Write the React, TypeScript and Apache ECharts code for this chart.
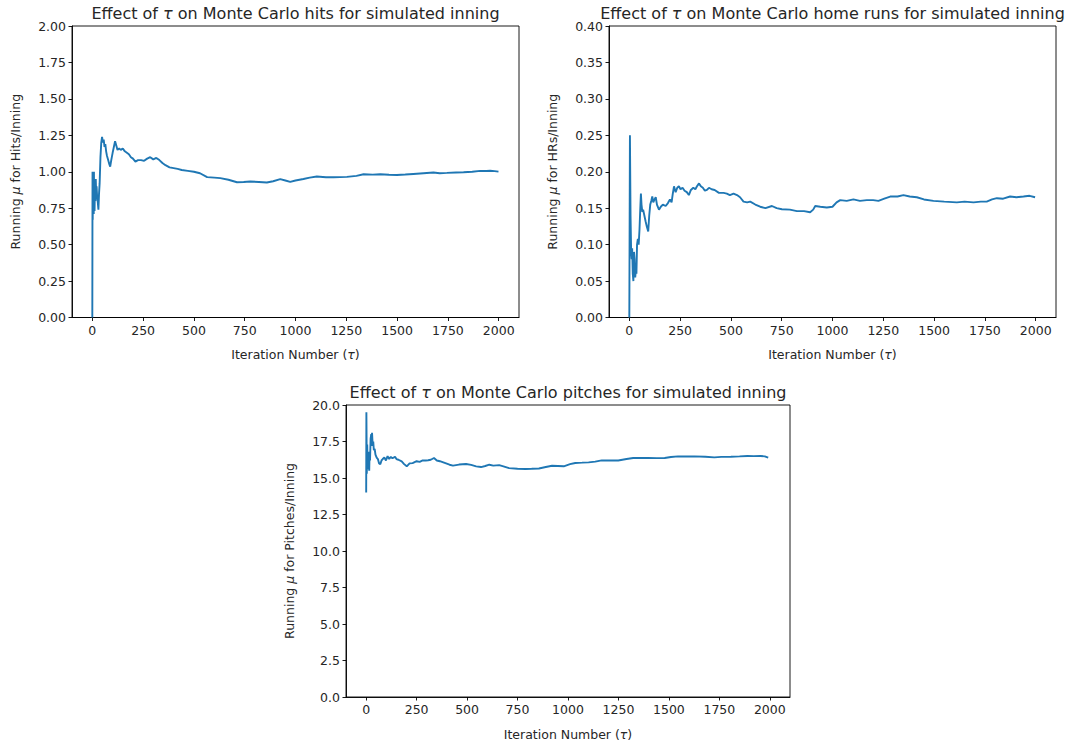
import React, { useEffect, useRef } from "react";
import * as echarts from "echarts";

// ---------- Data ----------
const xTicks = [0, 250, 500, 750, 1000, 1250, 1500, 1750, 2000];

const hitsIter = [0, 1, 2, 3, 4, 5, 6, 7, 8, 9, 10, 11, 13, 15, 17, 19, 21, 24, 27, 30, 33, 36, 40, 44, 48, 52, 56, 60, 64, 68, 72, 78, 84, 88, 92, 96, 100, 106, 112, 118, 124, 132, 140, 150, 160, 170, 180, 190, 200, 212, 225, 240, 255, 270, 285, 300, 315, 330, 345, 360, 380, 400, 420, 440, 470, 500, 530, 565, 600, 630, 670, 712, 745, 777, 820, 859, 890, 925, 950, 974, 1000, 1039, 1070, 1105, 1150, 1187, 1220, 1253, 1300, 1335, 1380, 1417, 1460, 1499, 1540, 1580, 1630, 1679, 1710, 1745, 1790, 1827, 1870, 1909, 1940, 1958, 1980, 1999];
const hitsMean = [0, 1.0, 0.67, 1.0, 0.75, 1.0, 0.86, 0.71, 1.0, 0.78, 0.9, 0.73, 0.92, 0.8, 0.95, 0.85, 0.9, 0.82, 0.79, 0.74, 0.85, 0.92, 1.1, 1.2, 1.24, 1.2, 1.22, 1.17, 1.19, 1.14, 1.11, 1.08, 1.05, 1.035, 1.07, 1.1, 1.13, 1.17, 1.21, 1.18, 1.15, 1.16, 1.15, 1.16, 1.14, 1.13, 1.12, 1.1, 1.09, 1.07, 1.08, 1.08, 1.075, 1.09, 1.1, 1.085, 1.095, 1.08, 1.06, 1.045, 1.03, 1.025, 1.02, 1.012, 1.006, 1.0, 0.99, 0.963, 0.96, 0.956, 0.945, 0.928, 0.93, 0.933, 0.93, 0.926, 0.935, 0.949, 0.94, 0.93, 0.94, 0.95, 0.96, 0.967, 0.962, 0.962, 0.963, 0.965, 0.972, 0.983, 0.98, 0.983, 0.979, 0.978, 0.981, 0.985, 0.99, 0.995, 0.99, 0.992, 0.995, 0.997, 1.0, 1.006, 1.005, 1.007, 1.004, 1.001];

const hrIter = [0, 1, 3, 6, 9, 12, 14, 17, 20, 23, 26, 29, 32, 35, 38, 42, 46, 50, 54, 57, 60, 64, 68, 74, 80, 86, 93, 98, 103, 108, 113, 118, 124, 130, 136, 146, 155, 165, 179, 190, 200, 208, 214, 220, 228, 236, 244, 252, 262, 272, 283, 293, 303, 315, 325, 333, 343, 352, 362, 372, 382, 392, 405, 420, 441, 464, 480, 495, 513, 530, 545, 562, 580, 595, 620, 644, 670, 702, 725, 751, 790, 825, 860, 890, 905, 915, 940, 972, 1000, 1020, 1038, 1070, 1103, 1135, 1169, 1200, 1226, 1255, 1284, 1320, 1349, 1380, 1415, 1450, 1497, 1550, 1612, 1650, 1694, 1730, 1759, 1785, 1809, 1840, 1874, 1905, 1940, 1970, 1997];
const hrMean = [0, 0, 0.25, 0.14, 0.09, 0.08, 0.095, 0.06, 0.05, 0.09, 0.08, 0.055, 0.065, 0.06, 0.1, 0.108, 0.1, 0.12, 0.15, 0.17, 0.155, 0.145, 0.148, 0.14, 0.132, 0.125, 0.118, 0.14, 0.155, 0.16, 0.166, 0.158, 0.162, 0.165, 0.155, 0.148, 0.152, 0.155, 0.153, 0.157, 0.162, 0.158, 0.17, 0.18, 0.172, 0.178, 0.18, 0.176, 0.178, 0.174, 0.172, 0.168, 0.175, 0.178, 0.176, 0.18, 0.184, 0.18, 0.178, 0.174, 0.175, 0.178, 0.176, 0.175, 0.171, 0.171, 0.17, 0.168, 0.17, 0.168, 0.165, 0.159, 0.158, 0.159, 0.155, 0.152, 0.15, 0.153, 0.15, 0.1486, 0.148, 0.146, 0.146, 0.1445, 0.148, 0.153, 0.152, 0.151, 0.152, 0.158, 0.161, 0.16, 0.162, 0.16, 0.161, 0.161, 0.16, 0.163, 0.166, 0.166, 0.168, 0.166, 0.165, 0.162, 0.16, 0.159, 0.158, 0.159, 0.158, 0.159, 0.159, 0.162, 0.1637, 0.163, 0.166, 0.165, 0.166, 0.167, 0.165];

const pitchIter = [0, 1, 2, 3, 5, 7, 9, 11, 13, 15, 17, 19, 22, 25, 27, 29, 32, 35, 38, 42, 46, 52, 58, 64, 70, 76, 82, 90, 98, 106, 114, 122, 130, 143, 150, 160, 176, 188, 201, 215, 230, 250, 265, 280, 295, 307, 320, 336, 350, 365, 389, 413, 430, 460, 495, 520, 545, 569, 590, 610, 630, 659, 680, 708, 750, 790, 820, 856, 890, 921, 950, 979, 1010, 1036, 1070, 1102, 1135, 1167, 1210, 1249, 1290, 1323, 1360, 1397, 1440, 1479, 1510, 1545, 1590, 1627, 1680, 1725, 1760, 1807, 1850, 1889, 1920, 1954, 1975, 1992];
const pitchMean = [14.0, 19.5, 17.5, 15.3, 17.3, 16.1, 16.8, 15.6, 16.5, 15.5, 16.8, 16.2, 17.7, 18.0, 17.2, 18.1, 17.3, 17.5, 16.9, 17.0, 16.6, 16.4, 16.3, 16.0, 15.95, 16.2, 16.3, 16.4, 16.2, 16.5, 16.3, 16.45, 16.35, 16.45, 16.3, 16.25, 16.14, 15.95, 15.8, 16.0, 16.02, 16.15, 16.1, 16.2, 16.2, 16.22, 16.25, 16.37, 16.2, 16.15, 16.03, 15.91, 15.85, 15.92, 15.96, 15.9, 15.8, 15.75, 15.82, 15.91, 15.85, 15.88, 15.8, 15.68, 15.63, 15.62, 15.63, 15.65, 15.75, 15.84, 15.82, 15.8, 15.95, 16.03, 16.05, 16.07, 16.12, 16.21, 16.2, 16.2, 16.3, 16.37, 16.37, 16.38, 16.36, 16.37, 16.44, 16.48, 16.47, 16.48, 16.46, 16.41, 16.45, 16.46, 16.48, 16.51, 16.5, 16.51, 16.48, 16.39];

const titles = [
  "Effect of {i|τ} on Monte Carlo hits for simulated inning",
  "Effect of {i|τ} on Monte Carlo home runs for simulated inning",
  "Effect of {i|τ} on Monte Carlo pitches for simulated inning",
];
const yNames = [
  "Running {i|μ} for Hits/Inning",
  "Running {i|μ} for HRs/Inning",
  "Running {i|μ} for Pitches/Inning",
];
const xName = "Iteration Number ({i|τ})";

// ---------- Styling ----------
const FONT = "DejaVu Sans";
const TEXT = "#262626";
const LINE = "#1f77b4";
const TICK_FS = 12.5;
const LABEL_FS = 12.5;
const TITLE_FS = 16;

const grids = [
  { left: 72, top: 26, width: 447, height: 291.5 },
  { left: 609, top: 26, width: 447, height: 291.5 },
  { left: 346, top: 405, width: 444, height: 292 },
];
const yCfg = [
  { max: 2, interval: 0.25, dec: 2 },
  { max: 0.4, interval: 0.05, dec: 2 },
  { max: 20, interval: 2.5, dec: 1 },
];

function zip(xs: number[], ys: number[]) {
  return xs.map((x, i) => [x, ys[i]]);
}

export default function App() {
  const ref = useRef<HTMLDivElement>(null);
  useEffect(() => {
    if (!ref.current) return;
    const chart = echarts.init(ref.current, undefined, { renderer: "svg" });

    const rich = (fs: number) => ({
      i: { fontStyle: "italic", fontSize: fs, fontFamily: FONT, fill: TEXT },
    });

    const graphic: any[] = [];
    grids.forEach((g, k) => {
      const cx = g.left + g.width / 2;
      const cy = g.top + g.height / 2;
      const bottom = g.top + g.height;
      graphic.push({
        type: "text",
        x: cx,
        y: g.top - 13,
        style: {
          text: titles[k],
          fontFamily: FONT,
          fontSize: TITLE_FS,
          fill: TEXT,
          align: "center",
          verticalAlign: "middle",
          rich: rich(TITLE_FS),
        },
      });
      graphic.push({
        type: "text",
        x: cx,
        y: bottom + 37,
        style: {
          text: xName,
          fontFamily: FONT,
          fontSize: LABEL_FS,
          fill: TEXT,
          align: "center",
          verticalAlign: "middle",
          rich: rich(LABEL_FS),
        },
      });
      graphic.push({
        type: "text",
        x: g.left - 57,
        y: cy,
        rotation: Math.PI / 2,
        style: {
          text: yNames[k],
          fontFamily: FONT,
          fontSize: LABEL_FS,
          fill: TEXT,
          align: "center",
          verticalAlign: "middle",
          rich: rich(LABEL_FS),
        },
      });
    });

    const option: any = {
      animation: false,
      backgroundColor: "#ffffff",
      grid: grids.map((g) => ({
        ...g,
        show: true,
        borderColor: "#000",
        borderWidth: 0.9,
        backgroundColor: "transparent",
      })),
      xAxis: grids.map((_, k) => ({
        type: "value",
        gridIndex: k,
        min: -100,
        max: 2100,
        axisLine: { show: true, onZero: false, lineStyle: { color: "#000", width: 0.9 } },
        axisTick: {
          show: true,
          customValues: xTicks,
          length: 3.5,
          lineStyle: { color: "#000", width: 0.9 },
        },
        axisLabel: {
          customValues: xTicks,
          margin: 6,
          fontFamily: FONT,
          fontSize: TICK_FS,
          color: TEXT,
          formatter: (v: number) => String(v),
        },
        splitLine: { show: false },
      })),
      yAxis: grids.map((_, k) => ({
        type: "value",
        gridIndex: k,
        min: 0,
        max: yCfg[k].max,
        interval: yCfg[k].interval,
        axisLine: { show: true, onZero: false, lineStyle: { color: "#000", width: 0.9 } },
        axisTick: { show: true, length: 3.5, lineStyle: { color: "#000", width: 0.9 } },
        axisLabel: {
          margin: 6,
          fontFamily: FONT,
          fontSize: TICK_FS,
          color: TEXT,
          formatter: (v: number) => v.toFixed(yCfg[k].dec),
        },
        splitLine: { show: false },
      })),
      series: [
        zip(hitsIter, hitsMean),
        zip(hrIter, hrMean),
        zip(pitchIter, pitchMean),
      ].map((d, k) => ({
        type: "line",
        xAxisIndex: k,
        yAxisIndex: k,
        data: d,
        showSymbol: false,
        symbol: "none",
        lineStyle: { color: LINE, width: 1.9 },
        clip: true,
      })),
      graphic,
    };
    chart.setOption(option);
    return () => chart.dispose();
  }, []);

  return (
    <div
      ref={ref}
      style={{ position: "fixed", left: 0, top: 0, width: 1070, height: 746, background: "#fff" }}
    />
  );
}
